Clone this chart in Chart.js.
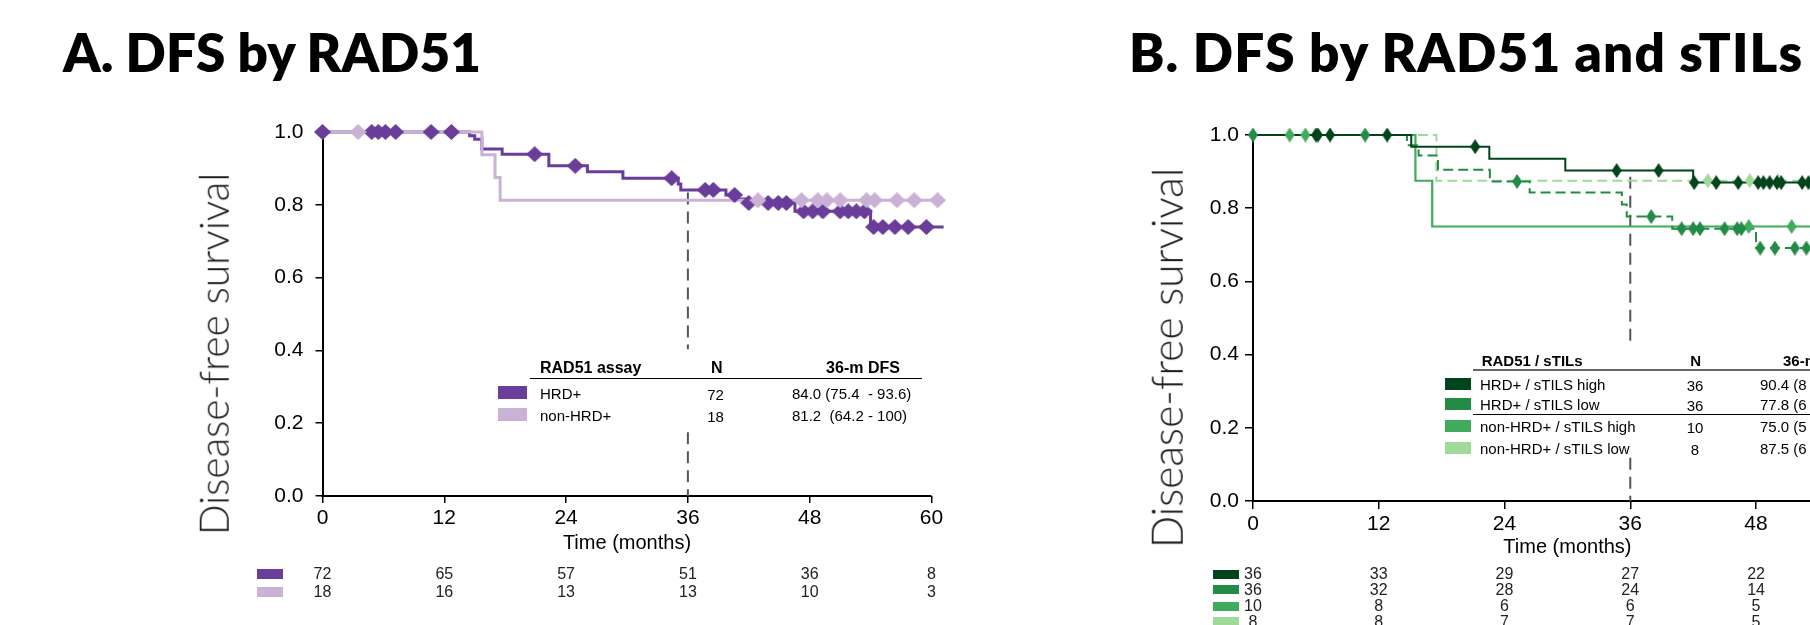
<!DOCTYPE html>
<html>
<head>
<meta charset="utf-8">
<script src="https://cdn.jsdelivr.net/npm/chart.js@4.4.0/dist/chart.umd.min.js"></script>
<style>
  html, body { margin: 0; padding: 0; background: #fff; }
  #page { position: relative; width: 1810px; height: 625px; overflow: hidden; background: #fff; }
  canvas { position: absolute; }
  .t { position: absolute; white-space: pre; line-height: 1; font-family: "Liberation Sans", Arial, sans-serif; color: #000; }
  .box { position: absolute; }
</style>
</head>
<body>
<div id="page">
  <canvas id="chartA" width="810" height="470" style="left:150px; top:100px;"></canvas>
  <canvas id="chartB" width="830" height="475" style="left:1080px; top:100px;"></canvas>
</div>
<script>
  // ---- shared axis values
  const timeTicks = [0, 12, 24, 36, 48, 60];
  const yTickValues = [0, 0.2, 0.4, 0.6, 0.8, 1.0];
  const yTickLabels = ['0.0', '0.2', '0.4', '0.6', '0.8', '1.0'];
  const landmark = 36;

  // ---- Panel A: DFS by RAD51
  const hrdTimes = [0, 14.5, 15.0, 15.7, 17.7, 22.3, 26.1, 29.6, 35.05, 35.3, 39.75, 40.9, 41.8, 46.55, 54.0, 61.2];
  const hrdSurv  = [1, 0.99, 0.98, 0.953, 0.939, 0.907, 0.891, 0.873, 0.857, 0.841, 0.827, 0.816, 0.805, 0.782, 0.739, 0.739];
  const hrdCensor = [0, 4.85, 5.5, 6.2, 7.2, 10.7, 12.7, 20.9, 24.9, 34.4, 37.7, 38.5, 40.6, 42.0, 43.9, 44.9, 45.7,
                     47.4, 48.3, 49.3, 51.0, 51.8, 52.6, 53.4, 54.3, 55.2, 56.4, 57.7, 59.5];
  const nonTimes = [0, 15.7, 17.0, 17.5, 61.2];
  const nonSurv  = [1, 0.9375, 0.875, 0.8125, 0.8125];
  const nonCensor = [3.5, 42.9, 47.2, 48.8, 49.7, 51.0, 53.6, 54.4, 56.6, 58.3, 60.6];
  const refYA = [0.834, 0.403, null, 0.175, 0];

  const groupsA = ['HRD+', 'non-HRD+'];
  const nA = ['72', '18'];
  const dfsA = ['84.0 (75.4  - 93.6)', '81.2  (64.2 - 100)'];
  const riskHrd = [72, 65, 57, 51, 36, 8];
  const riskNon = [18, 16, 13, 13, 10, 3];

  // ---- Panel B: DFS by RAD51 and sTILs
  const hiTimes = [0, 15.1, 22.55, 29.8, 42.0, 61];
  const hiSurv  = [1, 0.968, 0.935, 0.903, 0.870, 0.870];
  const hiCensor = [6.0, 6.2, 7.35, 12.8, 21.2, 34.7, 38.7, 42.1, 44.2, 46.3, 48.2, 48.7, 49.3, 50.0, 50.4, 52.4, 53.0];
  const loTimes = [0, 14.7, 15.8, 17.65, 22.6, 26.4, 35.2, 35.66, 40.0, 48.0, 61];
  const loSurv  = [1, 0.972, 0.944, 0.905, 0.873, 0.843, 0.81, 0.777, 0.744, 0.691, 0.691];
  const loCensor = [0, 10.7, 25.2, 38.0, 40.9, 42.0, 42.65, 45.0, 46.2, 46.6, 48.4, 49.8, 51.7, 52.8];
  const nonHiTimes = [0, 15.5, 17.1, 61];
  const nonHiSurv  = [1, 0.875, 0.75, 0.75];
  const nonHiCensor = [3.5, 5.0, 47.3, 51.4];
  const nonLoTimes = [0, 17.5, 61];
  const nonLoSurv  = [1, 0.875, 0.875];
  const nonLoCensor = [43.4, 47.4, 50.1];
  const refYB = [0.886, 0.419, null, 0.118, 0];

  const groupsB = ['HRD+ / sTILS high', 'HRD+ / sTILS low', 'non-HRD+ / sTILS high', 'non-HRD+ / sTILS low'];
  const nB = ['36', '36', '10', '8'];
  const dfsB = ['90.4 (8', '77.8 (6', '75.0 (5', '87.5 (6'];
  const riskHrdHi = [36, 33, 29, 27, 22];
  const riskHrdLo = [36, 32, 28, 24, 14];
  const riskNonHi = [10, 8, 6, 6, 5];
  const riskNonLo = [8, 8, 7, 7, 5];

  // colours
  const purple = '#6a3d9a', lavender = '#cab2d6';
  const greens = ['#00441b', '#238b45', '#41ab5d', '#a1d99b'];
  const FONT = '"Liberation Sans", Arial, sans-serif';
  Chart.defaults.font.family = FONT;

  const page = document.getElementById('page');

  function addText(text, x, y, o = {}) {
    const el = document.createElement('div');
    el.className = 't';
    el.textContent = text;
    el.style.left = x + 'px';
    el.style.top = y + 'px';
    const tx = o.align === 'center' ? '-50%' : o.align === 'right' ? '-100%' : '0';
    el.style.transform = `translate(${tx}, -50%)` + (o.rotate ? ` rotate(${o.rotate}deg)` : '');
    if (o.size) el.style.fontSize = o.size + 'px';
    if (o.weight) el.style.fontWeight = o.weight;
    if (o.color) el.style.color = o.color;
    if (o.family) el.style.fontFamily = o.family;
    if (o.spacing) el.style.letterSpacing = o.spacing + 'px';
    page.appendChild(el);
    return el;
  }

  function addBox(x, y, w, h, color) {
    const el = document.createElement('div');
    el.className = 'box';
    Object.assign(el.style, { left: x + 'px', top: y + 'px', width: w + 'px', height: h + 'px', background: color });
    page.appendChild(el);
  }

  // diamond marker as a small canvas
  function diamond(color, w, h) {
    const c = document.createElement('canvas');
    c.width = w; c.height = h;
    const g = c.getContext('2d');
    g.fillStyle = color;
    g.beginPath();
    g.moveTo(w / 2, 0); g.lineTo(w, h / 2); g.lineTo(w / 2, h); g.lineTo(0, h / 2);
    g.closePath(); g.fill();
    return c;
  }

  function survAt(times, surv, t) {
    let s = surv[0];
    for (let i = 0; i < times.length; i++) if (times[i] <= t) s = surv[i];
    return s;
  }

  function kmLine(times, surv, color, width, dash) {
    return {
      data: times.map((t, i) => ({ x: t, y: surv[i] })),
      showLine: true, stepped: 'before', borderColor: color, borderWidth: width,
      borderDash: dash || [], pointRadius: 0, clip: false
    };
  }

  function censorMarks(times, curveT, curveS, img) {
    return {
      data: times.map(t => ({ x: t, y: survAt(curveT, curveS, t) })),
      showLine: false, pointStyle: img, pointRadius: 6, clip: false
    };
  }

  function refLine(ys) {
    return {
      data: ys.map(y => ({ x: landmark, y: y })),
      showLine: true, borderColor: '#555', borderWidth: 2, borderDash: [12, 7],
      pointRadius: 0, clip: false, spanGaps: false
    };
  }

  // x axis line only up to 60 months (panel A area runs a little past it)
  const axisEnd = {
    id: 'axisEnd',
    beforeDatasetsDraw(chart, args, opts) {
      if (!opts.xEnd) return;
      const { ctx, scales: { x, y } } = chart;
      ctx.save();
      ctx.strokeStyle = '#000';
      ctx.lineWidth = 2;
      ctx.beginPath();
      ctx.moveTo(x.getPixelForValue(0) - 1, y.getPixelForValue(0));
      ctx.lineTo(x.getPixelForValue(opts.xEnd), y.getPixelForValue(0));
      ctx.stroke();
      ctx.restore();
    }
  };

  function makeOptions(c) {
    return {
      responsive: false,
      animation: false,
      events: [],
      layout: { padding: { left: 0, top: c.top, right: c.right, bottom: 0 } },
      plugins: { legend: { display: false }, tooltip: { enabled: false }, axisEnd: { xEnd: c.xEnd } },
      scales: {
        x: {
          type: 'linear', min: 0, max: c.xMax,
          afterBuildTicks: s => { s.ticks = timeTicks.map(v => ({ value: v })); },
          afterFit: s => { s.height = c.xHeight; },
          ticks: { font: { size: 21 }, color: '#000', padding: c.xPad, maxRotation: 0, autoSkip: false },
          grid: { drawOnChartArea: false, drawTicks: true, tickLength: c.tick, color: '#000', lineWidth: 1.5 },
          border: { display: !c.xEnd, color: '#000', width: 2 }
        },
        y: {
          type: 'linear', min: 0, max: 1,
          afterBuildTicks: s => { s.ticks = yTickValues.map(v => ({ value: v })); },
          afterFit: s => { s.width = c.yWidth; },
          ticks: { font: { size: 21 }, color: '#000', padding: c.yPad, callback: (v, i) => yTickLabels[i] },
          grid: { drawOnChartArea: false, drawTicks: true, tickLength: c.tick, color: '#000', lineWidth: 1.5 },
          border: { display: true, color: '#000', width: 2 }
        }
      }
    };
  }

  // ---- chart A
  const dA = [diamond(purple, 17, 16), diamond(lavender, 17, 16)];
  const chartA = new Chart(document.getElementById('chartA'), {
    type: 'scatter',
    data: {
      datasets: [
        censorMarks(nonCensor, nonTimes, nonSurv, dA[1]),
        censorMarks(hrdCensor, hrdTimes, hrdSurv, dA[0]),
        kmLine(nonTimes, nonSurv, lavender, 3),
        kmLine(hrdTimes, hrdSurv, purple, 3),
        refLine(refYA)
      ]
    },
    options: makeOptions({ top: 32, right: 13.3, xMax: 61.5, xEnd: 60, xHeight: 74, yWidth: 172.5, xPad: 3, yPad: 12, tick: 7 }),
    plugins: [axisEnd]
  });

  // ---- chart B
  const dB = greens.map(g => diamond(g, 10, 15));
  const chartB = new Chart(document.getElementById('chartB'), {
    type: 'scatter',
    data: {
      datasets: [
        censorMarks(hiCensor, hiTimes, hiSurv, dB[0]),
        censorMarks(loCensor, loTimes, loSurv, dB[1]),
        censorMarks(nonHiCensor, nonHiTimes, nonHiSurv, dB[2]),
        censorMarks(nonLoCensor, nonLoTimes, nonLoSurv, dB[3]),
        kmLine(hiTimes, hiSurv, greens[0], 2),
        kmLine(loTimes, loSurv, greens[1], 2, [10, 5]),
        kmLine(nonHiTimes, nonHiSurv, greens[2], 2.2),
        kmLine(nonLoTimes, nonLoSurv, greens[3], 2, [10, 5]),
        refLine(refYB)
      ]
    },
    options: makeOptions({ top: 35, right: 28.2, xMax: 60, xEnd: 0, xHeight: 74, yWidth: 173, xPad: 2.5, yPad: 6, tick: 8 })
  });

  // ---- titles and axis titles
  addText('A. DFS by RAD51', 63, 51, { family: 'Lato, sans-serif', size: 53, weight: 800 });
  addText('B. DFS by RAD51 and sTILs', 1129, 51, { family: 'Lato, sans-serif', size: 53, weight: 800, spacing: 1.1 });
  addText('Disease-free survival', 214, 354, { align: 'center', rotate: -90, family: 'Lato, sans-serif', size: 40.5, weight: 300, color: '#1a1a1a' });
  addText('Disease-free survival', 1167, 358, { align: 'center', rotate: -90, family: 'Lato, sans-serif', size: 42.5, weight: 300, color: '#1a1a1a' });
  addText('Time (months)', 150 + chartA.scales.x.getPixelForValue(30), 541.7, { align: 'center', size: 20 });
  addText('Time (months)', 1080 + chartB.scales.x.getPixelForValue(30), 545.7, { align: 'center', size: 20 });

  // ---- legend table A
  addText('RAD51 assay', 540, 367.7, { size: 16, weight: 700 });
  addText('N', 716.7, 367.7, { align: 'center', size: 16, weight: 700 });
  addText('36-m DFS', 863, 367.7, { align: 'center', size: 16, weight: 700 });
  addBox(530, 377.5, 392, 1.5, '#000');
  const rowsA = [392.5, 414.8];
  groupsA.forEach((g, i) => {
    addBox(498, rowsA[i] - 6.5, 29, 13, [purple, lavender][i]);
    addText(g, 540, rowsA[i], { size: 15 });
    addText(nA[i], 715.5, rowsA[i] + 1, { align: 'center', size: 15 });
    addText(dfsA[i], 792, rowsA[i], { size: 15 });
  });

  // ---- legend table B
  addText('RAD51 / sTILs', 1481.7, 360, { size: 15, weight: 700 });
  addText('N', 1695.7, 360, { align: 'center', size: 15, weight: 700 });
  addText('36-m DFS', 1783, 360, { size: 15, weight: 700 });
  addBox(1473, 369.3, 340, 1.5, '#666');
  addBox(1473, 413.5, 340, 1.5, '#000');
  const rowsB = [383.5, 403.5, 426, 447.5];
  groupsB.forEach((g, i) => {
    addBox(1445, rowsB[i] - 6, 26, 12, greens[i]);
    addText(g, 1480, rowsB[i], { size: 15 });
    addText(nB[i], 1695, rowsB[i] + 1, { align: 'center', size: 15 });
    addText(dfsB[i], 1760, rowsB[i], { size: 15 });
  });

  // ---- numbers at risk
  function riskRow(chart, canvasLeft, counts, y, color, swX, swH) {
    addBox(swX, y - swH / 2, 26, swH, color);
    counts.forEach((n, i) => {
      const px = canvasLeft + chart.scales.x.getPixelForValue(timeTicks[i]);
      addText(String(n), px, y, { align: 'center', size: 16, color: '#222' });
    });
  }
  riskRow(chartA, 150, riskHrd, 574.3, purple, 256.5, 10);
  riskRow(chartA, 150, riskNon, 592.3, lavender, 256.5, 10);
  [riskHrdHi, riskHrdLo, riskNonHi, riskNonLo].forEach((r, i) => {
    riskRow(chartB, 1080, r, [574, 589.5, 606, 621.7][i], greens[i], 1212.5, 9);
  });
</script>
</body>
</html>
